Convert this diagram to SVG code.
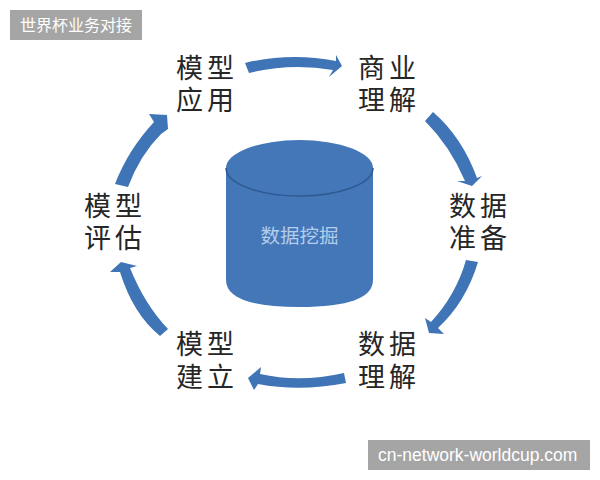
<svg xmlns="http://www.w3.org/2000/svg" width="600" height="480" viewBox="0 0 600 480">
<style>
.l{font-family:"Noto Sans CJK SC","Liberation Sans",sans-serif;font-size:27px;fill:#262626;letter-spacing:4px}
.b{fill:#a5a5a5}
.w{fill:#fff;font-family:"Liberation Sans","Noto Sans CJK SC",sans-serif;font-size:16px}
.a{fill:#3f74b6}
</style>
<rect width="600" height="480" fill="#fff"/>
<g id="badge-top"><rect class="b" x="10" y="10" width="132" height="30"/><text class="w" x="20" y="31">世界杯业务对接</text></g>
<g id="badge-bottom"><rect class="b" x="368" y="440" width="222" height="30"/><text class="w" x="378" y="461" font-size="17" style="font-size:17.5px">cn-network-worldcup.com</text></g>
<g id="connectors">
<path class="a" d="M245 63Q290 52 336 61L336 55L342 66L329 77L333 70Q290 63 249 73Z"/>
<path class="a" d="M433 112Q462 137 477 178L482 176L472 186L457 181L465 181Q450 146 425 121Z"/>
<path class="a" d="M466 260L478 262Q466 302 438 328L444 334L429 333L425 318L431 322Q456 295 466 260Z"/>
<path class="a" d="M344 373L346 383Q300 392 258 384L254 390L248 378L261 367L260 374Q300 383 344 373Z"/>
<path class="a" d="M168 329L160 336Q133 314 120 272L110 272L121 262L137 266L130 268Q145 305 168 329Z"/>
<path class="a" d="M115 184L128 187Q140 155 161 134L168 129L167 115L149 114L154 122Q128 150 115 184Z"/>
</g>
<g id="cylinder">
<path d="M226 168A73.500 28 0 0 1 373 168V280Q373 307 299.500 307Q226 307 226 280Z" fill="#4377b8"/>
<path d="M226 168A73.500 28 0 0 0 373 168" fill="none" stroke="#2f5a91" stroke-width="1.500"/>
<text x="299.500" y="243" text-anchor="middle" font-family="'Noto Sans CJK SC',sans-serif" font-size="19.500" fill="#b4cdeb">数据挖掘</text>
</g>
<g id="node-yingyong"><text class="l" x="176" y="78">模型</text><text class="l" x="176" y="110">应用</text></g>
<g id="node-shangye"><text class="l" x="358" y="78">商业</text><text class="l" x="358" y="110">理解</text></g>
<g id="node-zhunbei"><text class="l" x="449" y="216">数据</text><text class="l" x="449" y="248">准备</text></g>
<g id="node-lijie"><text class="l" x="358" y="354">数据</text><text class="l" x="358" y="387">理解</text></g>
<g id="node-jianli"><text class="l" x="176" y="354">模型</text><text class="l" x="176" y="387">建立</text></g>
<g id="node-pinggu"><text class="l" x="84" y="216">模型</text><text class="l" x="84" y="248">评估</text></g>
</svg>
